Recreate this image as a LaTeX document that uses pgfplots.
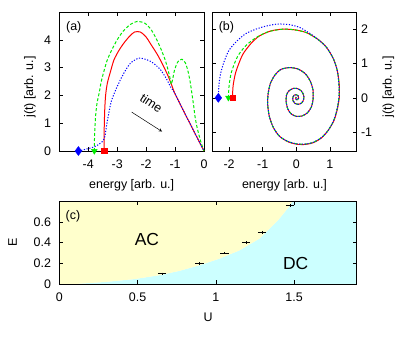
\documentclass[border=0pt]{standalone}
\usepackage{fontspec}
\setmainfont{Liberation Sans}
\usepackage{pgfplots}
\pgfplotsset{compat=1.18}

\definecolor{gpred}{RGB}{255,0,0}
\definecolor{gpgreen}{RGB}{0,235,0}
\definecolor{gpblue}{RGB}{0,0,255}
\definecolor{acfill}{RGB}{255,255,204}
\definecolor{dcfill}{RGB}{204,255,255}

\pgfplotsset{
  gp/.style={
    scale only axis,
    axis line style={black, line width=0.7pt},
    tick align=inside,
    major tick length=4bp,
    tick style={black, line width=0.5pt},
    /pgf/number format/assume math mode=true,
    xticklabel style={yshift=-4.5bp},
    yticklabel style={xshift=-4bp},
    clip=false,
  },
  redl/.style={gpred, line width=1pt, smooth, tension=0.45},
  greenl/.style={gpgreen, line width=1pt, dash pattern=on 3bp off 2bp, smooth, tension=0.45},
  bluel/.style={gpblue, line width=1pt, dash pattern=on 1.2bp off 1.6bp, smooth, tension=0.45},
}

\begin{document}
\fontsize{12.5}{15}\selectfont
\begin{tikzpicture}
\path[use as bounding box] (0,0) rectangle (415bp,340bp);

% (a)
\begin{axis}[gp,
  at={(59.3bp,189bp)}, anchor=south west,
  width=144.7bp, height=139bp,
  xmin=-5, xmax=0, ymin=0, ymax=5,
  xtick={-4,-3,-2,-1,0}, ytick={0,1,2,3,4},
  xlabel={energy [arb. u.]}, ylabel={j(t) [arb. u.]},
  xlabel style={at={(axis description cs:0.5,-0.245)}, anchor=center},
  ylabel style={at={(axis description cs:-0.2025,0.46)}, anchor=center},
]
\addplot[redl] coordinates {
(-3.45,0) (-3.45,0.7) (-3.43,1.48) (-3.40,2.0) (-3.34,2.44) (-3.22,2.9)
(-3.11,3.28) (-2.95,3.6) (-2.77,3.88) (-2.57,4.13) (-2.4,4.28) (-2.2,4.28)
(-2.0,4.1) (-1.85,3.86) (-1.6,3.45) (-1.4,3.05) (-1.25,2.72) (-1.12,2.38)
(-1.02,2.1) (-0.85,1.74) (-0.7,1.43) (-0.5,1.02) (-0.3,0.61) (-0.1,0.2) (0,0)
};
\addplot[greenl] coordinates {
(-3.79,0) (-3.78,0.6) (-3.75,1.2) (-3.70,1.7) (-3.62,2.1) (-3.55,2.5)
(-3.45,2.9) (-3.34,3.28) (-3.18,3.65) (-3.0,4.0) (-2.8,4.3) (-2.55,4.55)
(-2.3,4.66) (-2.05,4.6) (-1.85,4.4) (-1.68,4.1) (-1.5,3.7) (-1.35,3.3)
(-1.25,2.95) (-1.17,2.6) (-1.13,2.4) (-1.08,2.6) (-1.02,2.9) (-0.93,3.16)
(-0.85,3.27) (-0.76,3.3) (-0.65,3.18) (-0.56,2.9) (-0.48,2.5) (-0.42,2.08)
(-0.36,1.65) (-0.31,1.24) (-0.25,0.9) (-0.19,0.64) (-0.1,0.3) (0,0)
};
\addplot[bluel] coordinates {
(-4.34,0) (-3.79,0.15) (-3.5,0.35) (-3.42,0.55) (-3.37,0.9) (-3.3,1.3)
(-3.2,1.8) (-3.0,2.32) (-2.77,2.8) (-2.54,3.16) (-2.25,3.34) (-1.97,3.28)
(-1.75,3.16) (-1.5,2.92) (-1.3,2.6) (-1.15,2.3) (-1.02,2.1) (-0.85,1.74)
(-0.7,1.43) (-0.5,1.02) (-0.3,0.61) (-0.1,0.2) (0,0)
};
\addplot[only marks, mark=diamond*, mark size=4.5bp, gpblue] coordinates {(-4.34,0)};
\addplot[only marks, mark=triangle*, mark size=3.3bp, gpgreen, mark options={rotate=180}] coordinates {(-3.79,0)};
\addplot[only marks, mark=square*, mark size=2.7bp, gpred] coordinates {(-3.45,0)};
\node at (axis cs:-4.5,4.45) {(a)};
\draw[-stealth, line width=0.5pt] (axis cs:-2.5,1.4) -- (axis cs:-1.45,0.7);
\node[rotate=-33, inner sep=1pt] at (axis cs:-1.82,1.72) {time};
\end{axis}

% (b)
\begin{axis}[gp,
  at={(212.3bp,189bp)}, anchor=south west,
  width=144.4bp, height=139bp,
  xmin=-2.5, xmax=1.8, ymin=-1.55, ymax=2.5,
  xtick={-2,-1,0,1}, ytick={-1,0,1,2},
  yticklabel pos=right,
  yticklabel style={xshift=4bp},
  xlabel={energy [arb. u.]}, ylabel={j(t) [arb. u.]},
  xlabel style={at={(axis description cs:0.5,-0.245)}, anchor=center},
  ylabel style={at={(axis description cs:1.219,0.46)}, anchor=center},
]
\addplot[redl] coordinates {
(-1.9,0) (-1.88,0.35) (-1.8,0.75) (-1.6,1.25) (-1.35,1.58) (-1.1,1.8)
(-0.75,1.95) (-0.4,2.0) (-0.05,1.98) (0.3,1.9) (0.65,1.7) (0.9,1.47)
(1.1,1.15) (1.22,0.8) (1.28,0.4) (1.28,0.0) (1.22,-0.35) (1.12,-0.67)
(0.95,-0.95) (0.75,-1.17) (0.5,-1.31) (0.25,-1.36) (0.0,-1.35) (-0.25,-1.28)
(-0.5,-1.12) (-0.68,-0.87) (-0.8,-0.55) (-0.85,-0.2) (-0.84,0.1) (-0.77,0.42)
(-0.63,0.67) (-0.45,0.83) (-0.2,0.88) (0.05,0.84) (0.27,0.7) (0.42,0.48)
(0.5,0.22) (0.5,-0.05) (0.45,-0.27) (0.33,-0.44) (0.17,-0.53) (0.0,-0.54)
(-0.15,-0.47) (-0.25,-0.33) (-0.3,-0.12) (-0.29,0.08) (-0.22,0.2) (-0.1,0.27)
(0.03,0.27) (0.15,0.2) (0.22,0.08) (0.22,-0.05) (0.16,-0.15) (0.06,-0.19)
(-0.04,-0.16) (-0.1,-0.08) (-0.1,0.02) (-0.06,0.08) (0.01,0.09) (0.06,0.05)
(0.07,-0.01) (0.04,-0.05) (0,-0.05) (-0.02,-0.01) (0,0.02)
};
\addplot[greenl] coordinates {
(-2.02,0) (-2.0,0.35) (-1.93,0.75) (-1.75,1.2) (-1.5,1.52) (-1.2,1.75)
(-0.85,1.92) (-0.4,2.0) (-0.05,1.98) (0.3,1.9) (0.65,1.7) (0.9,1.47)
(1.1,1.15) (1.22,0.8) (1.27,0.4) (1.27,0.0) (1.21,-0.35) (1.11,-0.67)
(0.95,-0.95) (0.75,-1.16) (0.5,-1.3) (0.25,-1.35) (0.0,-1.34) (-0.25,-1.27)
(-0.5,-1.12) (-0.68,-0.87) (-0.8,-0.55) (-0.85,-0.2) (-0.84,0.1) (-0.77,0.42)
(-0.63,0.67) (-0.45,0.83) (-0.2,0.88) (0.05,0.84) (0.27,0.7) (0.42,0.48)
(0.5,0.22) (0.5,-0.05) (0.45,-0.27) (0.33,-0.44) (0.17,-0.53) (0.0,-0.54)
(-0.15,-0.47) (-0.25,-0.33) (-0.3,-0.12) (-0.29,0.08) (-0.22,0.2) (-0.1,0.27)
(0.03,0.27) (0.15,0.2) (0.22,0.08) (0.22,-0.05) (0.16,-0.15) (0.06,-0.19)
(-0.04,-0.16) (-0.1,-0.08) (-0.1,0.02) (-0.06,0.08) (0.01,0.09) (0.06,0.05)
(0.07,-0.01) (0.04,-0.05) (0,-0.05) (-0.02,-0.01) (0,0.02)
};
\addplot[bluel] coordinates {
(-2.32,0) (-2.3,0.4) (-2.25,0.72) (-2.15,1.05) (-2.0,1.39) (-1.75,1.67)
(-1.5,1.87) (-1.2,2.0) (-0.9,2.09) (-0.55,2.15) (-0.2,2.13) (0.1,2.05)
(0.4,1.88) (0.65,1.7) (0.9,1.47)
(1.1,1.15) (1.22,0.8) (1.27,0.4) (1.27,0.0) (1.21,-0.35) (1.11,-0.67)
(0.95,-0.95) (0.75,-1.16) (0.5,-1.3) (0.25,-1.35) (0.0,-1.34) (-0.25,-1.27)
(-0.5,-1.12) (-0.68,-0.87) (-0.8,-0.55) (-0.85,-0.2) (-0.84,0.1) (-0.77,0.42)
(-0.63,0.67) (-0.45,0.83) (-0.2,0.88) (0.05,0.84) (0.27,0.7) (0.42,0.48)
(0.5,0.22) (0.5,-0.05) (0.45,-0.27) (0.33,-0.44) (0.17,-0.53) (0.0,-0.54)
(-0.15,-0.47) (-0.25,-0.33) (-0.3,-0.12) (-0.29,0.08) (-0.22,0.2) (-0.1,0.27)
(0.03,0.27) (0.15,0.2) (0.22,0.08) (0.22,-0.05) (0.16,-0.15) (0.06,-0.19)
(-0.04,-0.16) (-0.1,-0.08) (-0.1,0.02) (-0.06,0.08) (0.01,0.09) (0.06,0.05)
(0.07,-0.01) (0.04,-0.05) (0,-0.05) (-0.02,-0.01) (0,0.02)
};
\addplot[only marks, mark=diamond*, mark size=4.5bp, gpblue] coordinates {(-2.32,0)};
\addplot[only marks, mark=triangle*, mark size=3.3bp, gpgreen, mark options={rotate=180}] coordinates {(-2.02,0)};
\addplot[only marks, mark=square*, mark size=2.7bp, gpred] coordinates {(-1.9,0)};
\node at (axis cs:-2.08,2.05) {(b)};
\end{axis}

% (c)
\begin{axis}[gp,
  at={(59.3bp,55.7bp)}, anchor=south west,
  width=297.4bp, height=83.3bp,
  xmin=0, xmax=1.9, ymin=0, ymax=0.8,
  xtick={0,0.5,1,1.5}, ytick={0,0.2,0.4,0.6},
  xlabel={U}, ylabel={E},
  xlabel style={at={(axis description cs:0.5,-0.39)}, anchor=center},
  ylabel style={at={(axis description cs:-0.157,0.5)}, anchor=center},
  axis on top, clip=true,
]
\addplot[fill=dcfill, draw=none] coordinates {
(0,0) (0.1,0.003) (0.29,0.022) (0.48,0.05) (0.65,0.09) (0.77,0.13) (0.9,0.185)
(1.02,0.245) (1.15,0.325) (1.28,0.44) (1.4,0.62) (1.47,0.75) (1.49,0.8)
(1.9,0.8) (1.9,0)
};
\addplot[fill=acfill, draw=none] coordinates {
(0,0) (0.1,0.003) (0.29,0.022) (0.48,0.05) (0.65,0.09) (0.77,0.13) (0.9,0.185)
(1.02,0.245) (1.15,0.325) (1.28,0.44) (1.4,0.62) (1.47,0.75) (1.49,0.8)
(0,0.8)
};
\addplot[black, line width=0.8pt, only marks, mark=|, mark size=1.3bp,
  error bars/.cd, x dir=both, x explicit,
  error bar style={line width=0.8pt}, error mark options={mark size=1.3bp, line width=0.8pt}]
coordinates {
(0.656,0.1) +- (0.018,0)
(0.896,0.2) +- (0.018,0)
(1.055,0.3) +- (0.018,0)
(1.193,0.4) +- (0.018,0)
(1.295,0.5) +- (0.018,0)
(1.474,0.755) +- (0.018,0)
};
\node[font=\fontsize{17.5}{20}\selectfont] at (axis cs:0.56,0.434) {AC};
\node[font=\fontsize{17.5}{20}\selectfont] at (axis cs:1.51,0.195) {DC};
\node at (axis cs:0.087,0.655) {(c)};
\end{axis}
\end{tikzpicture}
\end{document}
